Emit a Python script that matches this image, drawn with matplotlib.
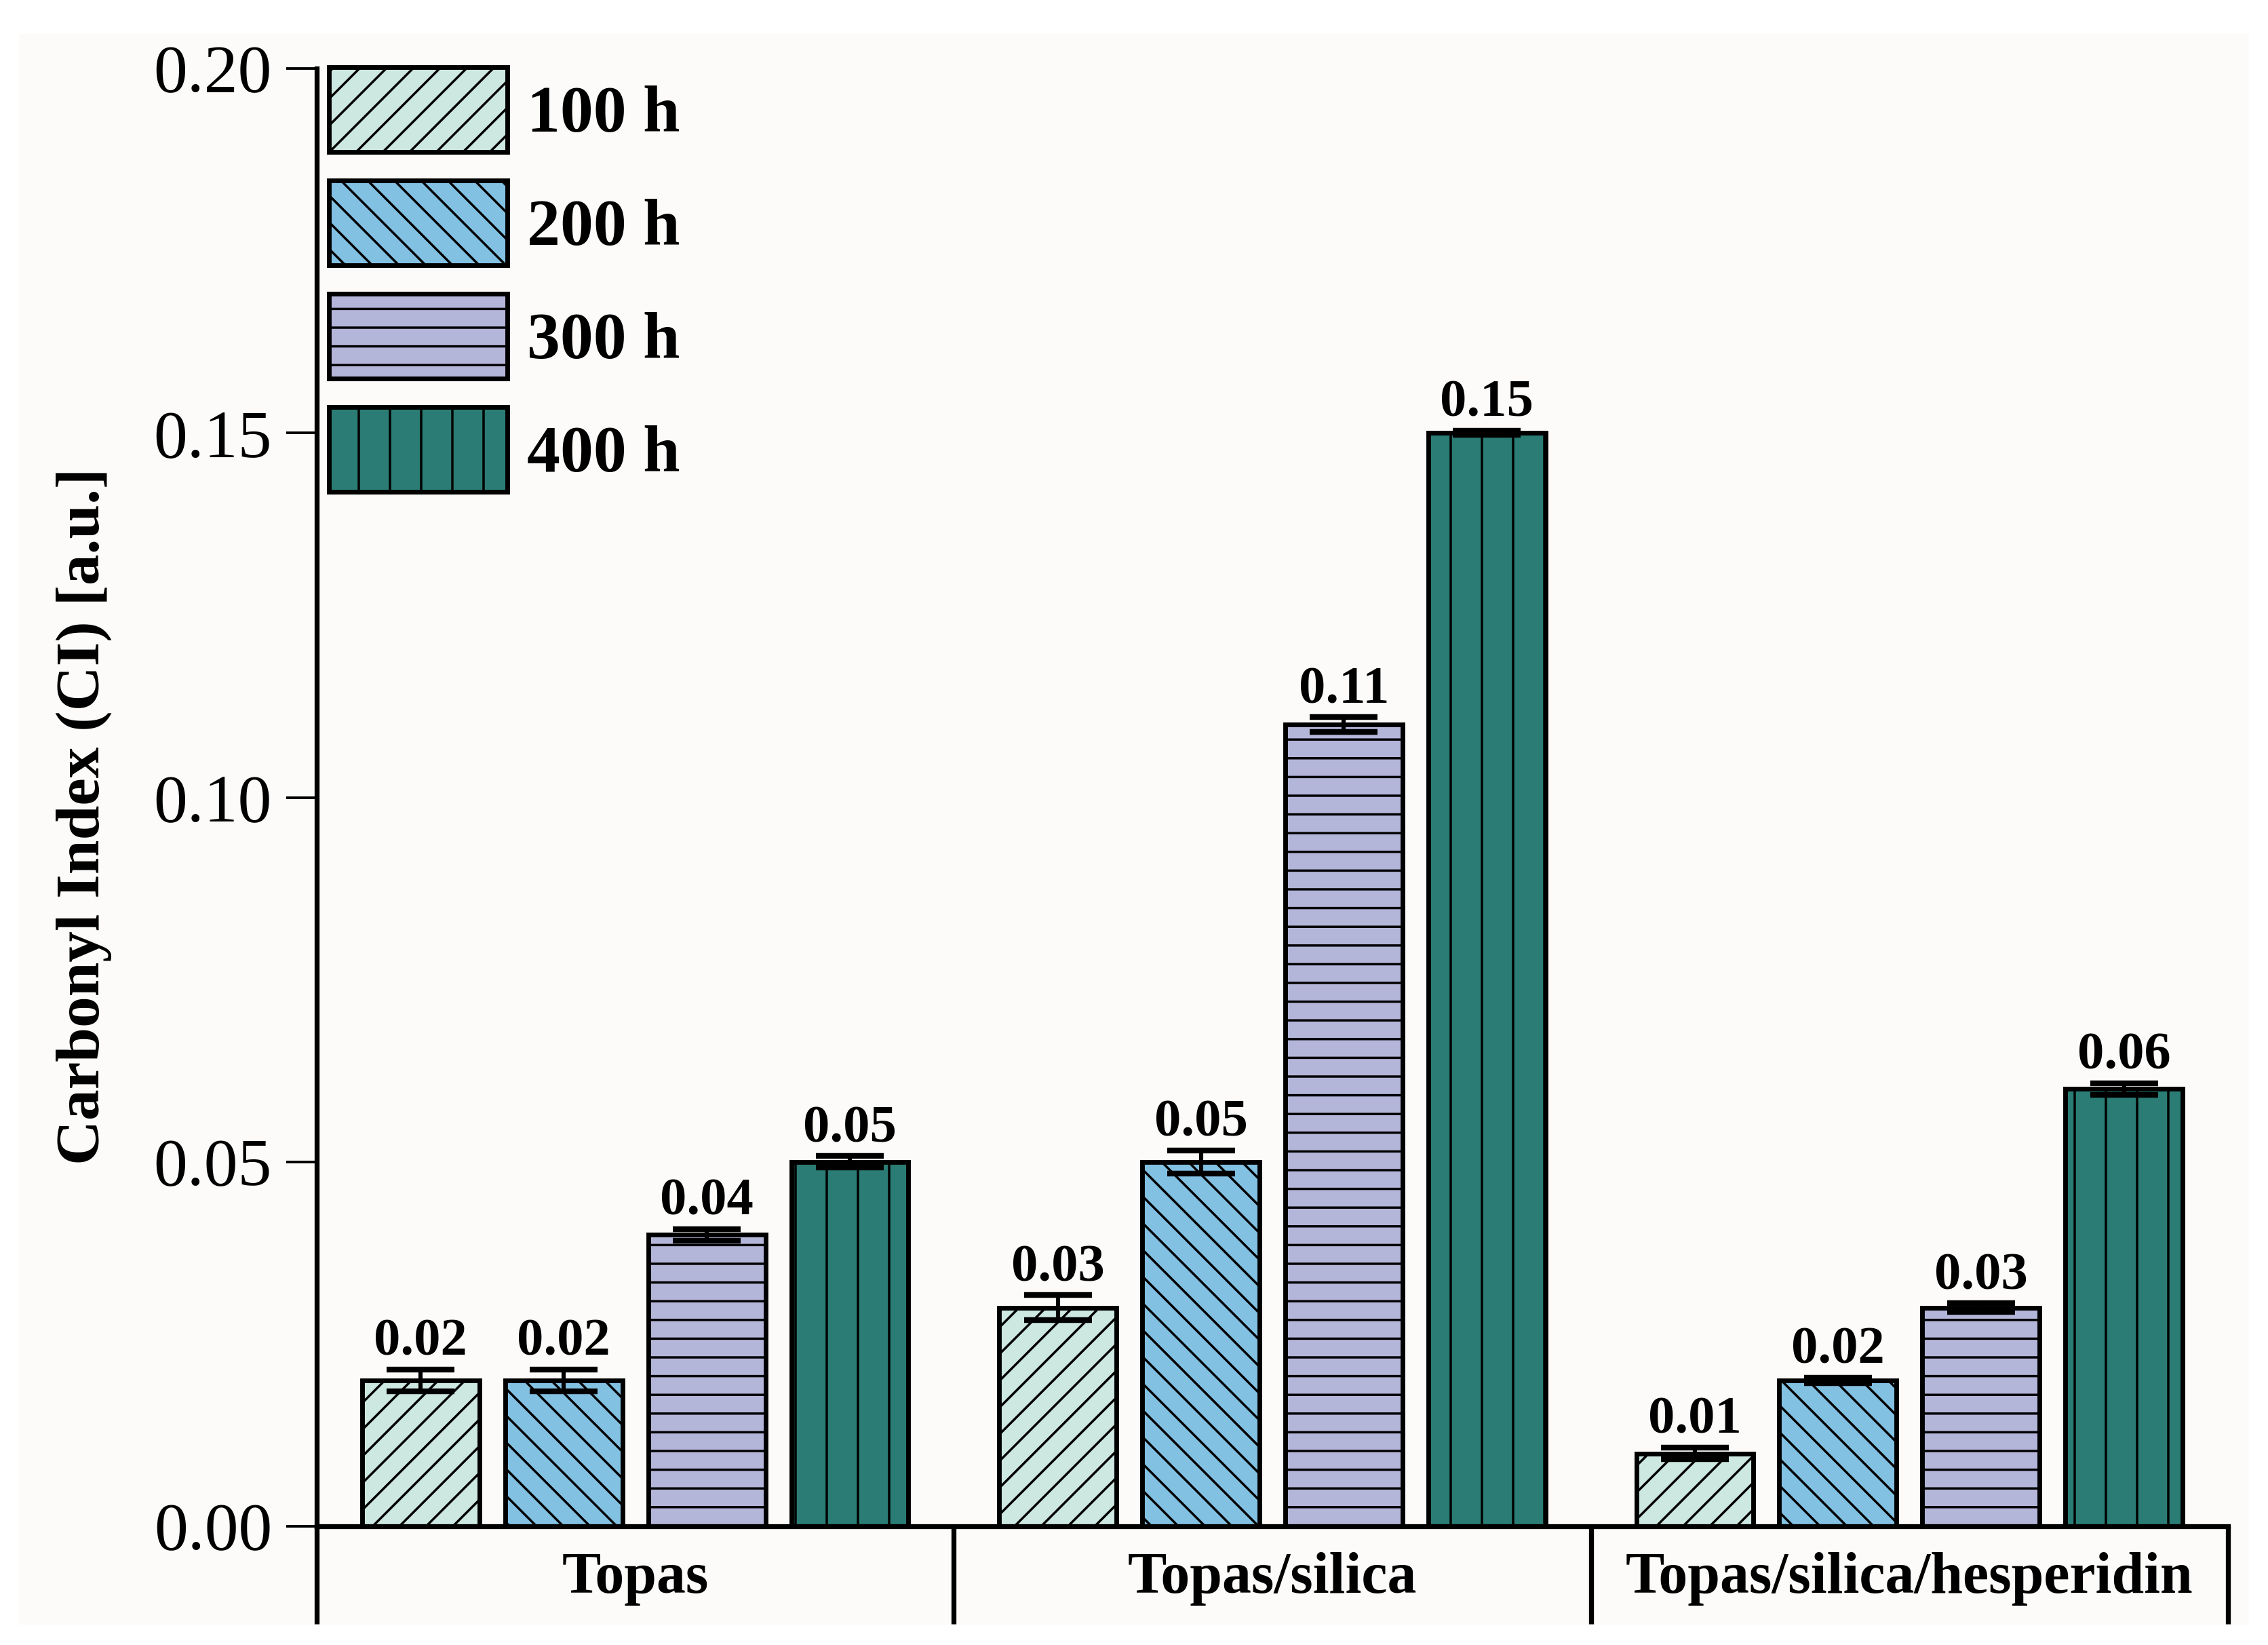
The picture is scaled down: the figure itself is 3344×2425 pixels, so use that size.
import numpy as np
import matplotlib
matplotlib.use('Agg')
import matplotlib.pyplot as plt
import matplotlib.hatch as mhatch
from matplotlib.patches import Rectangle

# ---------------- data ----------------
categories = ['Topas', 'Topas/silica', 'Topas/silica/hesperidin']
series_labels = ['100 h', '200 h', '300 h', '400 h']
values_100h = [0.02, 0.03, 0.01]
values_200h = [0.02, 0.05, 0.02]
values_300h = [0.04, 0.11, 0.03]
values_400h = [0.05, 0.15, 0.06]
err_100h = [0.0015, 0.0017, 0.0008]
err_200h = [0.0015, 0.0016, 0.0004]
err_300h = [0.0008, 0.0010, 0.0006]
err_400h = [0.0008, 0.0003, 0.0008]
yticks = [0.00, 0.05, 0.10, 0.15, 0.20]

# ---------------- style ----------------
colors = ['#cde7e1', '#83c1e3', '#b3b5d9', '#2a7c74']
hatches = ['/', '\\', '-', '|']

# hatch densities tuned to the reference spacing
_h_orig = mhatch.HorizontalHatch.__init__
def _h_init(self, hatch, density):
    _h_orig(self, hatch, density * (10 / 6) + 0.01)
mhatch.HorizontalHatch.__init__ = _h_init
_ne_orig = mhatch.NorthEastHatch.__init__
def _ne_init(self, hatch, density):
    _ne_orig(self, hatch, density * (14 / 6) + 0.01)
mhatch.NorthEastHatch.__init__ = _ne_init
_se_orig = mhatch.SouthEastHatch.__init__
def _se_init(self, hatch, density):
    _se_orig(self, hatch, density * (14 / 6) + 0.01)
mhatch.SouthEastHatch.__init__ = _se_init

plt.rcParams['font.family'] = ['Liberation Serif', 'DejaVu Serif']
plt.rcParams['hatch.linewidth'] = 0.9

DPI = 276
W, H = 3344, 2425
fig = plt.figure(figsize=(W / DPI, H / DPI), dpi=DPI, facecolor='white')
fig.patches.append(Rectangle((28 / W, 1 - 2395 / H), (3316 - 28) / W, (2395 - 50) / H,
                             transform=fig.transFigure, facecolor='#fcfbf9',
                             edgecolor='none', zorder=-10))

ax_l, ax_r, ax_t, ax_b = 467, 3285, 101, 2250
ax = fig.add_axes([ax_l / W, 1 - ax_b / H, (ax_r - ax_l) / W, (ax_b - ax_t) / H])
ax.set_facecolor('none')

series_values = [values_100h, values_200h, values_300h, values_400h]
series_errs = [err_100h, err_200h, err_300h, err_400h]

x = np.arange(len(categories))
step = 0.2245
width = 0.184
for i, (vals, errs, col, hat, lab) in enumerate(zip(series_values, series_errs, colors, hatches, series_labels)):
    pos = x + (i - 1.5) * step
    ax.bar(pos, vals, width, color=col, edgecolor='black', linewidth=1.8,
           hatch=hat, label=lab, zorder=2)
    ax.errorbar(pos, vals, yerr=errs, fmt='none', ecolor='black', elinewidth=1.6,
                capsize=13, capthick=2.2, zorder=3)
    for p, v, e in zip(pos, vals, errs):
        ax.annotate(f'{v:.2f}', xy=(p, v + e), xytext=(0, 5.5), textcoords='offset points',
                    ha='center', va='baseline', fontsize=20.5, fontweight='bold')

ax.set_xlim(-0.5, len(categories) - 0.5)
ax.set_ylim(0, 0.20)
ax.set_yticks(yticks)
ax.set_yticklabels([f'{t:.2f}' for t in yticks])
ax.set_xticks(x)
ax.set_xticklabels(categories, fontweight='bold')

for s in ['top', 'right']:
    ax.spines[s].set_visible(False)
for s in ['left', 'bottom']:
    ax.spines[s].set_linewidth(1.9)

ax.tick_params(axis='y', direction='out', length=11.7, width=1.0, pad=5.5, labelsize=26)
ax.tick_params(axis='x', length=0, pad=10, labelsize=22.4)

# group separators below the x axis
sep_depth = (2394 - ax_b) / (ax_b - ax_t)
for b in np.arange(len(categories) + 1) - 0.5:
    ax.plot([b, b], [0, -sep_depth], transform=ax.get_xaxis_transform(), color='black',
            lw=1.9, clip_on=False, solid_capstyle='butt', zorder=4)

fig.text(124 / W, 1 - 1203 / H, 'Carbonyl Index (CI) [a.u.]', rotation=90,
         ha='center', va='center', fontsize=23.8, fontweight='bold')

fs_leg = 25.5
leg = ax.legend(loc='upper left', bbox_to_anchor=(485 / W, 1 - 99 / H),
                bbox_transform=fig.transFigure, frameon=False, borderpad=0,
                borderaxespad=0, handlelength=2.69, handleheight=1.59,
                labelspacing=0.43, handletextpad=0.30,
                prop={'size': fs_leg, 'weight': 'bold'})

fig.savefig('out.png', dpi=DPI, facecolor='white')
